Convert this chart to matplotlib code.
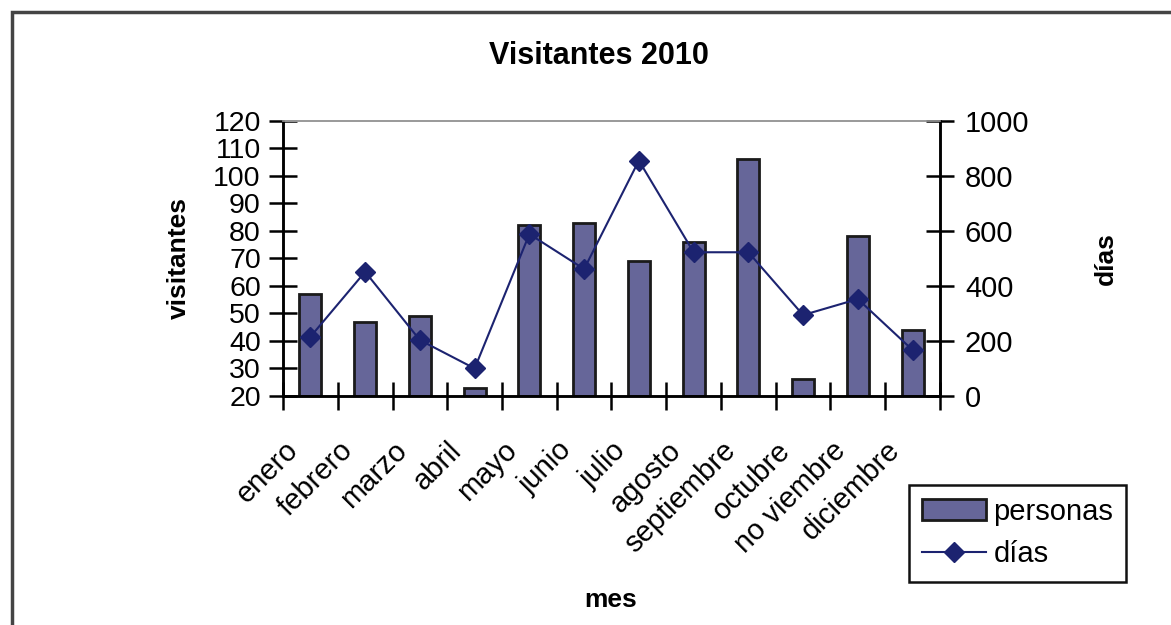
import numpy as np
import matplotlib
matplotlib.use("Agg")
from matplotlib import pyplot as plt
from matplotlib import transforms
from matplotlib.patches import Rectangle

plt.rcParams['font.family'] = ['Liberation Sans', 'DejaVu Sans']

meses = ['enero', 'febrero', 'marzo', 'abril', 'mayo', 'junio', 'julio',
         'agosto', 'septiembre', 'octubre', 'no viembre', 'diciembre']
personas = [57, 47, 49, 23, 82, 83, 69, 76, 106, 26, 78, 44]
dias = [215, 451, 203, 100, 588, 461, 855, 522, 522, 294, 352, 167]

fig = plt.figure(figsize=(11.71, 6.25), dpi=100)
ax = fig.add_axes([0.2417, 0.3664, 0.5610, 0.4406])
ax2 = ax.twinx()

x = np.arange(len(meses))
bars = ax.bar(x, np.array(personas) - 20, bottom=20, width=0.4, color='#666699',
              edgecolor='#1a1a1a', linewidth=2, label='personas', zorder=2)
line, = ax2.plot(x, dias, color='#1c2370', lw=1.5, marker='D', markersize=10,
                 label='días', zorder=3)

ax.set_xlim(-0.5, len(meses) - 0.5)
ax.set_ylim(20, 120)
ax.set_yticks(np.arange(20, 121, 10))
ax2.set_ylim(0, 1000)
ax2.set_yticks(np.arange(0, 1001, 200))

# ticks on category borders, labels on centres
ax.set_xticks(np.arange(-0.5, len(meses), 1))
ax.set_xticklabels([])
ax.set_xticks(x, meses, minor=True)
ax.tick_params(axis='x', which='major', direction='inout', length=20, width=1.8)
ax.tick_params(axis='x', which='minor', length=0, pad=36, labelsize=21)
for lab in ax.get_xticklabels(minor=True):
    lab.set_rotation(45)
    lab.set_ha('right')
    lab.set_va('center')
    lab.set_rotation_mode('anchor')
    lab.set_transform(lab.get_transform() +
                      transforms.ScaledTranslation(-0.17, 0, fig.dpi_scale_trans))

ax.tick_params(axis='y', direction='inout', length=20, width=1.8, labelsize=20.5, pad=6)
ax2.tick_params(axis='y', direction='inout', length=20, width=1.8, labelsize=21, pad=8)

for a in (ax, ax2):
    a.spines['left'].set_linewidth(1.8)
    a.spines['right'].set_linewidth(1.8)
    a.spines['bottom'].set_linewidth(1.8)
    a.spines['top'].set_color('#999999')
    a.spines['top'].set_linewidth(1.2)

ax.set_title('Visitantes 2010', fontsize=22, fontweight='bold', pad=41, x=0.481)
ax.set_ylabel('visitantes', fontsize=19, fontweight='bold')
ax.yaxis.set_label_coords(-0.141, 0.5)
ax.set_xlabel('mes', fontsize=19, fontweight='bold')
ax.xaxis.set_label_coords(0.498, -0.697)
ax2.set_ylabel('días', fontsize=19, fontweight='bold')
ax2.yaxis.set_label_coords(1.234, 0.5)

fig.legend([bars, line], ['personas', 'días'], loc='center',
           bbox_to_anchor=(0.869, 0.147), fontsize=21, frameon=True,
           fancybox=False, edgecolor='#111111', framealpha=1,
           handlelength=2.2, handletextpad=0.25, labelspacing=0.5,
           borderpad=0.45)
fig.legends[0].get_frame().set_linewidth(1.8)

# outer chart border
fig.patches.append(Rectangle((12 / 1171, -0.1), 1.2, 1 - 12 / 625 + 0.1,
                             transform=fig.transFigure, fill=False,
                             edgecolor='#444444', linewidth=2.5))

fig.savefig('out.png', dpi=100)
